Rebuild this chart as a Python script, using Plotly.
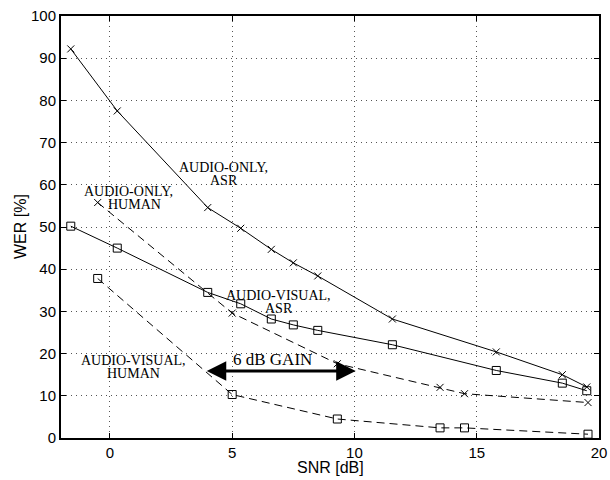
import plotly.graph_objects as go

# Audio-only ASR (solid, x markers)
ao_asr_snr = [-1.6, 0.3, 4.0, 5.35, 6.6, 7.5, 8.5, 11.55, 15.8, 18.5, 19.5]
ao_asr_wer = [92.2, 77.5, 54.6, 49.7, 44.7, 41.5, 38.4, 28.2, 20.4, 15.0, 12.1]

# Audio-visual ASR (solid, square markers)
av_asr_snr = [-1.6, 0.3, 4.0, 5.35, 6.6, 7.5, 8.5, 11.55, 15.8, 18.5, 19.5]
av_asr_wer = [50.2, 45.0, 34.5, 31.8, 28.2, 26.8, 25.5, 22.1, 16.0, 13.0, 11.2]

# Audio-only human (dashed, x markers)
ao_hum_snr = [-0.5, 5.0, 9.3, 13.5, 14.5, 19.55]
ao_hum_wer = [55.8, 29.6, 17.6, 12.0, 10.5, 8.4]

# Audio-visual human (dashed, square markers)
av_hum_snr = [-0.5, 5.0, 9.3, 13.5, 14.5, 19.55]
av_hum_wer = [37.8, 10.3, 4.5, 2.4, 2.4, 0.9]

x_ticks = [0, 5, 10, 15, 20]
y_ticks = [0, 10, 20, 30, 40, 50, 60, 70, 80, 90, 100]

x_title = "SNR [dB]"
y_title = "WER [%]"

# text labels: (x, y, text)
labels = [
    (4.65, 64.0, "AUDIO-ONLY,"),
    (4.65, 61.0, "ASR"),
    (0.75, 58.4, "AUDIO-ONLY,"),
    (1.0, 55.4, "HUMAN"),
    (6.9, 33.8, "AUDIO-VISUAL,"),
    (6.9, 30.8, "ASR"),
    (0.95, 18.4, "AUDIO-VISUAL,"),
    (0.95, 15.4, "HUMAN"),
]
gain_text = "6 dB GAIN"
gain_from, gain_to, gain_y = 3.9, 10.05, 15.9

fig = go.Figure()

def add_series(xs, ys, symbol, dash, msize):
    fig.add_trace(go.Scatter(
        x=xs, y=ys, mode="lines+markers",
        line=dict(color="black", width=1, dash=dash),
        marker=dict(symbol=symbol, size=msize, color="black",
                    line=dict(color="black", width=1)),
        showlegend=False,
    ))

add_series(ao_asr_snr, ao_asr_wer, "x-thin-open", "solid", 7)
add_series(av_asr_snr, av_asr_wer, "square-open", "solid", 8)
add_series(ao_hum_snr, ao_hum_wer, "x-thin-open", "8px,5px", 7)
add_series(av_hum_snr, av_hum_wer, "square-open", "8px,5px", 8)

for (lx, ly, t) in labels:
    fig.add_annotation(x=lx, y=ly, text=t, showarrow=False, xref="x", yref="y",
                       font=dict(family="Liberation Serif", size=14, color="black"))

fig.add_annotation(x=6.65, y=18.7, text=gain_text, showarrow=False, xref="x", yref="y",
                   font=dict(family="Liberation Serif", size=17, color="black"))
fig.add_annotation(x=gain_to, y=gain_y, ax=gain_from, ay=gain_y, axref="x", ayref="y",
                   xref="x", yref="y", text="", showarrow=True,
                   arrowhead=2, startarrowhead=2, arrowside="end+start",
                   arrowwidth=3, arrowsize=1.3, startarrowsize=1.3, arrowcolor="black")

# axis titles
title_font = dict(family="Liberation Sans", size=16, color="black")
fig.add_annotation(text=x_title, xref="paper", yref="paper", x=0.5, y=0,
                   yshift=-29, showarrow=False, font=title_font,
                   xanchor="center", yanchor="middle")
fig.add_annotation(text=y_title, xref="paper", yref="paper", x=0, y=0.5,
                   xshift=-41, showarrow=False, font=title_font, textangle=-90,
                   xanchor="center", yanchor="middle")

axis_common = dict(
    showline=True, linecolor="black", linewidth=2, mirror="ticks",
    ticks="inside", ticklen=5, tickwidth=1, tickcolor="black",
    showgrid=True, gridcolor="#555555", griddash="1px,4px", gridwidth=1,
    zeroline=False, automargin=False, ticklabeloverflow="allow",
    tickfont=dict(family="Liberation Sans", size=15, color="black"),
)

fig.update_xaxes(range=[-2, 20], tickvals=x_ticks, **axis_common)
fig.update_yaxes(range=[0, 100], tickvals=y_ticks, **axis_common)

fig.update_layout(
    width=610, height=480,
    margin=dict(l=61, r=11, t=16, b=42),
    plot_bgcolor="white", paper_bgcolor="white",
)

fig.write_html(
    "out.html",
    config={"displayModeBar": False},
    post_script="document.body.style.margin='0';document.body.style.overflow='hidden';",
)
